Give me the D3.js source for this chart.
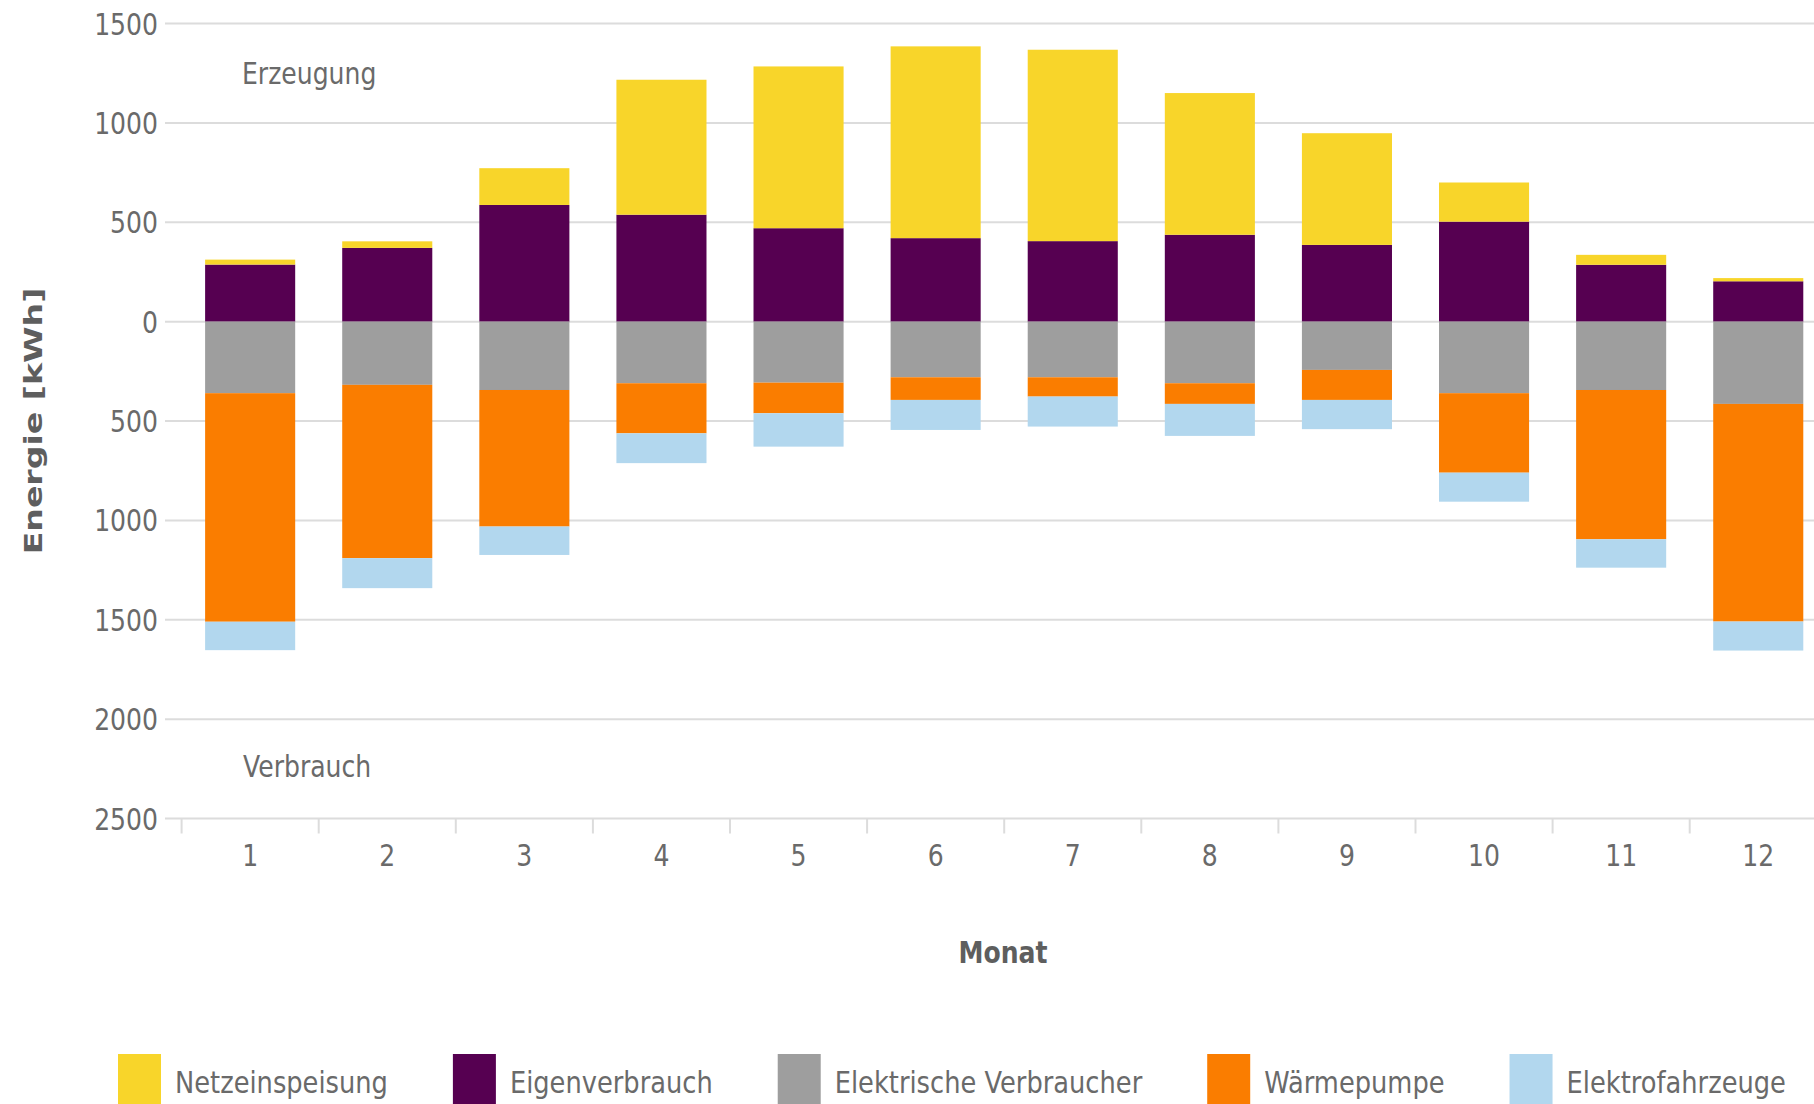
<!DOCTYPE html>
<html>
<head>
<meta charset="utf-8">
<script src="https://cdn.jsdelivr.net/npm/d3@7"></script>
<style>
  html, body { margin: 0; padding: 0; background: #ffffff; }
  svg { display: block; }
</style>
</head>
<body>
<svg id="chart" width="1814" height="1104"></svg>
<script>
// ---------- data ----------
const months = [1, 2, 3, 4, 5, 6, 7, 8, 9, 10, 11, 12];
const netzeinspeisung        = [25, 33, 185, 679, 814, 965, 963, 713, 562, 197, 50, 16];
const eigenverbrauch         = [287, 371, 587, 538, 470, 420, 405, 437, 386, 503, 286, 203];
const elektrischeVerbraucher = [360, 318, 344, 310, 307, 280, 280, 310, 243, 360, 344, 414];
const waermepumpe            = [1150, 872, 687, 252, 154, 114, 97, 104, 151, 400, 751, 1095];
const elektrofahrzeuge       = [143, 151, 143, 150, 168, 151, 151, 161, 147, 146, 143, 146];
const yTickValues = [-2500, -2000, -1500, -1000, -500, 0, 500, 1000, 1500];
const seriesNames = ["Netzeinspeisung", "Eigenverbrauch", "Elektrische Verbraucher", "Wärmepumpe", "Elektrofahrzeuge"];
const seriesColors = ["#F8D52A", "#560051", "#9E9E9E", "#FA7D00", "#B2D7EE"];
const labelErzeugung = "Erzeugung";
const labelVerbrauch = "Verbrauch";
const yTitle = "Energie [kWh]";
const xTitle = "Monat";

// ---------- build table ----------
const table = months.map((m, i) => ({
  month: m,
  "Eigenverbrauch": eigenverbrauch[i],
  "Netzeinspeisung": netzeinspeisung[i],
  "Elektrische Verbraucher": -elektrischeVerbraucher[i],
  "Wärmepumpe": -waermepumpe[i],
  "Elektrofahrzeuge": -elektrofahrzeuge[i]
}));
const stackKeys = ["Eigenverbrauch", "Netzeinspeisung", "Elektrische Verbraucher", "Wärmepumpe", "Elektrofahrzeuge"];
const color = d3.scaleOrdinal().domain(seriesNames).range(seriesColors);

const stacked = d3.stack().keys(stackKeys).offset(d3.stackOffsetDiverging)(table);

// ---------- layout ----------
const svg = d3.select("#chart");
const SX = 0.81;          // horizontal squeeze of text
const SX_LEG = 0.83;
const FONT = "'DejaVu Sans', Verdana, sans-serif";
const FS = 31;

const y = d3.scaleLinear().domain([-2500, 1500]).range([818.5, 23.5]);
const x = d3.scaleBand().domain(months).range([181.6, 181.6 + 12 * 137.1])
  .paddingInner(0.343).paddingOuter(0.1715);

function addText(g, str, tx, ty, opts = {}) {
  const t = g.append("text")
    .attr("transform", `translate(${tx},${ty}) ` + (opts.rotate ? `rotate(${opts.rotate}) ` : "") + `scale(${opts.sx ?? SX},${opts.sy ?? 1})`)
    .attr("x", 0).attr("y", 0)
    .attr("font-family", FONT)
    .attr("font-size", opts.size ?? FS)
    .attr("font-weight", opts.weight ?? "normal")
    .attr("fill", opts.fill ?? "#6a6a6a")
    .attr("text-anchor", opts.anchor ?? "start")
    .text(str);
  return t;
}

// gridlines
const grid = svg.append("g");
grid.selectAll("line").data(yTickValues).join("line")
  .attr("x1", 165).attr("x2", 1814)
  .attr("y1", d => y(d)).attr("y2", d => y(d))
  .attr("stroke", "#dcdcdc").attr("stroke-width", 2);

// y tick labels
const yLab = svg.append("g");
yTickValues.forEach(v => addText(yLab, String(Math.abs(v)), 158, y(v) + 11, { anchor: "end" }));

// x axis ticks at band boundaries
const step = x.step();
const xTicks = svg.append("g");
xTicks.selectAll("line").data(months).join("line")
  .attr("x1", d => x(d) - x.paddingOuter() * step)
  .attr("x2", d => x(d) - x.paddingOuter() * step)
  .attr("y1", y(-2500)).attr("y2", y(-2500) + 15)
  .attr("stroke", "#dcdcdc").attr("stroke-width", 2);
const xLab = svg.append("g");
months.forEach(m => addText(xLab, String(m), x(m) + x.bandwidth() / 2, 866, { anchor: "middle" }));

// bars
const bars = svg.append("g");
bars.selectAll("g").data(stacked).join("g")
  .attr("fill", d => color(d.key))
  .selectAll("rect").data(d => d).join("rect")
  .attr("x", d => x(d.data.month))
  .attr("width", x.bandwidth())
  .attr("y", d => y(Math.max(d[0], d[1])))
  .attr("height", d => Math.abs(y(d[0]) - y(d[1])));

// annotations
const ann = svg.append("g");
addText(ann, labelErzeugung, 242, 84);
addText(ann, labelVerbrauch, 243, 777);

// axis titles
const titles = svg.append("g");
addText(titles, xTitle, 1003, 963, { anchor: "middle", weight: "bold", fill: "#5e5e5e" });
addText(titles, yTitle, 42, 421, { anchor: "middle", weight: "bold", fill: "#5e5e5e", rotate: -90, sx: 1.07, sy: 0.8 });

// legend
const legend = svg.append("g");
let lx = 118;
seriesNames.forEach(name => {
  legend.append("rect").attr("x", lx).attr("y", 1054).attr("width", 43).attr("height", 60)
    .attr("fill", color(name));
  const t = addText(legend, name, lx + 57, 1093, { sx: SX_LEG });
  const w = t.node().getComputedTextLength() * SX_LEG;
  lx = lx + 57 + w + 65;
});
</script>
</body>
</html>
